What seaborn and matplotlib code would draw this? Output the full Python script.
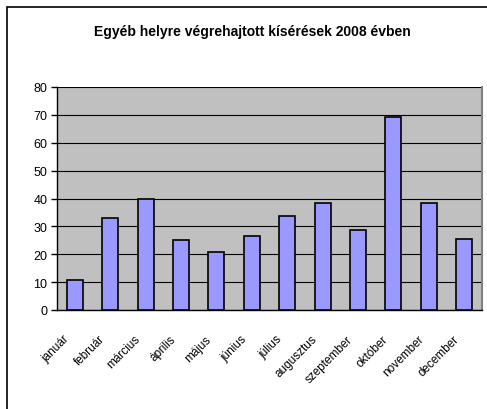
import matplotlib
matplotlib.use("Agg")
import matplotlib.pyplot as plt
import matplotlib.transforms as mtransforms
import seaborn as sns
import pandas as pd
import numpy as np
from matplotlib.patches import Rectangle

months = ["január", "február", "március", "április", "május", "június",
          "július", "augusztus", "szeptember", "október", "november", "december"]
values = [10.7, 33.1, 40.0, 25.0, 20.7, 26.6, 33.9, 38.4, 28.8, 69.2, 38.4, 25.6]
yticks = [0, 10, 20, 30, 40, 50, 60, 70, 80]
title = "Egyéb helyre végrehajtott kísérések 2008 évben"

sns.set_style("white")
plt.rcParams['font.family'] = ['Liberation Sans', 'DejaVu Sans']

df = pd.DataFrame({"month": months, "value": values})

fig = plt.figure(figsize=(4.87, 4.10), dpi=100)
ax = fig.add_axes([57/487, 1-311/410, (482-57)/487, (311-88)/410])
ax.set_facecolor("#C0C0C0")

sns.barplot(data=df, x="month", y="value", color="#9999FF", edgecolor="black",
            linewidth=1.2, width=0.45, saturation=1, ax=ax, zorder=3)

ax.set_ylim(0, 80)
ax.set_xlim(-0.5, len(months) - 0.5)
ax.set_yticks(yticks)
ax.set_yticklabels([str(t) for t in yticks], fontsize=9, color="black")
ax.yaxis.grid(True, color="black", linewidth=0.8, zorder=0)
ax.set_axisbelow(True)
ax.set_xlabel("")
ax.set_ylabel("")

ax.set_xticks(range(len(months)))
ax.set_xticklabels(months, rotation=45, ha="right", va="center",
                   rotation_mode="anchor", fontsize=8.5, color="black")
ax.tick_params(axis="x", which="major", length=0, pad=0)
offset = mtransforms.ScaledTranslation(-7/100, -27/100, fig.dpi_scale_trans)
for lbl in ax.get_xticklabels():
    lbl.set_transform(lbl.get_transform() + offset)
ax.set_xticks(np.arange(-0.5, len(months), 1), minor=True)
ax.tick_params(axis="x", which="minor", length=4, width=1, color="black", direction="out")
ax.tick_params(axis="y", length=4, width=1, color="black", direction="out", left=True, pad=3)

for s in ["left", "bottom"]:
    ax.spines[s].set_color("black")
    ax.spines[s].set_linewidth(1)
ax.spines["top"].set_visible(False)
ax.spines["right"].set_color("#808080")
ax.spines["right"].set_linewidth(1.5)

fig.text(252/487, 1-32/410, title, ha="center", va="center", fontsize=10,
         fontweight="bold", color="black")

fig.patches.append(Rectangle((7/487, -0.1), 1.2, 1-8/410+0.1, transform=fig.transFigure,
                             fill=False, edgecolor="black", linewidth=1.2, zorder=10))

fig.savefig("out.png", dpi=100, facecolor="white")
